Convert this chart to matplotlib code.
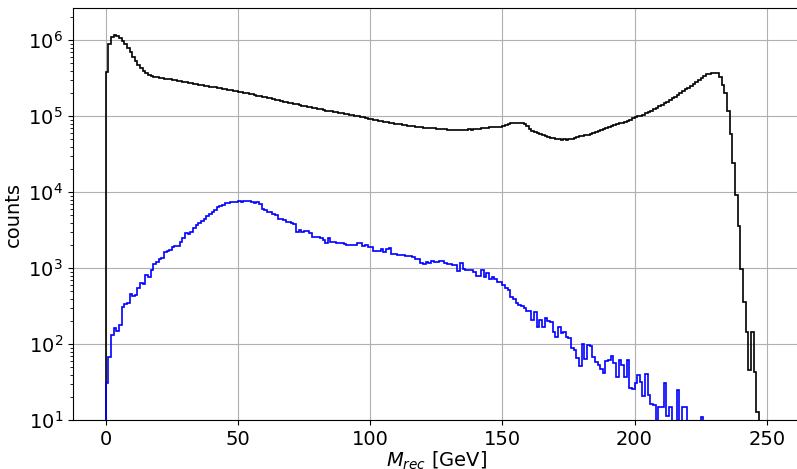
import numpy as np
import matplotlib
matplotlib.use("Agg")
import matplotlib.pyplot as plt

# Reconstructed-mass histograms, 1 GeV bins from 0 to 250 GeV
bin_edges = np.arange(0, 251, 1.0)

all_counts = [
    385000, 890000, 1110000, 1170000, 1140000, 1080000, 990000, 890000, 785000, 695000,
    608000, 534000, 473000, 428000, 395000, 368000, 349000, 339000, 332000, 326000,
    322000, 318000, 313000, 309000, 305000, 300000, 298000, 291000, 288000, 284000,
    280000, 276000, 272500, 268000, 265000, 261000, 257000, 254000, 250000, 246500,
    243000, 239500, 236500, 233000, 229500, 226500, 223000, 220000, 217000, 214000,
    211000, 207500, 204000, 200500, 197500, 194000, 191000, 187500, 184500, 181000,
    178000, 174500, 171500, 168000, 165000, 162000, 159000, 156000, 153500, 150500,
    148000, 145500, 143000, 140500, 138500, 136000, 134000, 131500, 129500, 127000,
    125000, 123000, 121000, 119000, 117500, 116000, 114000, 112500, 111000, 109500,
    108000, 106500, 104500, 103000, 101500, 100000, 98000, 96500, 94500, 92500,
    91000, 89500, 88500, 87000, 86000, 84500, 83500, 82000, 81000, 80000,
    79500, 78500, 77500, 76500, 75500, 74500, 74000, 73000, 72500, 71500,
    70800, 70500, 70000, 69500, 69500, 68500, 68500, 67500, 68000, 67000,
    66500, 67000, 66000, 66000, 65500, 67000, 66500, 67500, 67000, 68500,
    68000, 69000, 69500, 70000, 70500, 71500, 72000, 72500, 73000, 72500,
    74000, 76500, 79000, 81000, 82000, 82500, 82000, 80500, 78000, 73500,
    68000, 65000, 62500, 60000, 58000, 56500, 55000, 53500, 52500, 51500,
    50000, 51000, 49500, 50500, 49500, 50500, 51000, 52000, 53000, 54500,
    55000, 56500, 57500, 59000, 61000, 63000, 64500, 66500, 68000, 70000,
    72000, 74500, 76500, 78500, 80500, 82500, 85000, 87000, 90000, 95000,
    99000, 100500, 102000, 105500, 109000, 113500, 118500, 123500, 129500, 135000,
    141000, 148500, 156500, 164500, 173000, 182000, 191000, 202000, 214000, 226500,
    239000, 252000, 266000, 282000, 300000, 320000, 342000, 355000, 364000, 368000,
    369000, 366000, 332000, 258000, 201000, 117000, 58500, 24500, 9200, 3600,
    990, 360, 147, 46, 147, 43, 13, 0, 0, 0,
]

selected_counts = [
    31, 69, 132, 162, 150, 179, 312, 339, 346, 459,
    432, 441, 546, 646, 616, 816, 761, 950, 1139, 1221,
    1314, 1354, 1624, 1689, 1741, 1924, 1965, 1990, 2239, 2482,
    2887, 2850, 3004, 3360, 3680, 3910, 4230, 4495, 4832, 5182,
    5506, 5848, 6347, 6664, 6868, 7160, 7298, 7387, 7450, 7520,
    7752, 7450, 7690, 7600, 7690, 7390, 7300, 7350, 7018, 5970,
    5900, 5555, 5500, 5135, 5050, 4454, 4400, 4350, 4104, 4050,
    3910, 3880, 3030, 3191, 3030, 3096, 3100, 2887, 2605, 2580,
    2558, 2540, 2357, 2133, 2482, 2239, 2220, 2172, 2150, 2160,
    2088, 2025, 2010, 2000, 2025, 2133, 2120, 1983, 2025, 1924,
    1900, 1704, 1690, 1700, 1778, 1654, 1778, 1833, 1543, 1530,
    1496, 1490, 1480, 1451, 1440, 1430, 1396, 1326, 1310, 1185,
    1139, 1221, 1164, 1259, 1221, 1210, 1259, 1250, 1164, 1150,
    1150, 1105, 1100, 930, 1164, 970, 960, 950, 945, 902,
    799, 795, 950, 775, 859, 717, 775, 717, 666, 654,
    603, 546, 518, 423, 391, 353, 329, 319, 298, 277,
    275, 209, 264, 170, 209, 170, 220, 204, 198, 146,
    126, 167, 142, 146, 124, 122, 88.6, 84, 65.4, 51.8,
    101, 63.5, 97.9, 95, 67.4, 59, 53.4, 46.9, 41.5, 60.8,
    62.1, 70.2, 56.2, 36.8, 62.1, 53.4, 37.5, 62.1, 26.4, 25.6,
    30.7, 39.4, 32.2, 20.9, 40.6, 21.5, 16.4, 15.9, 0, 15.1,
    15.1, 30.7, 11.4, 15.1, 0, 0, 25, 0, 15.1, 15.1,
    0, 0, 0, 0, 0, 11, 0, 0, 0, 0,
    0, 0, 0, 0, 0, 0, 0, 0, 0, 0,
    0, 0, 0, 0, 0, 0, 0, 0, 0, 0,
]

bin_centers = 0.5 * (bin_edges[:-1] + bin_edges[1:])

fig = plt.figure(figsize=(7.97, 4.69), dpi=100)
ax = fig.add_axes([72.7 / 797, 1 - 420.3 / 469, 727.1 / 797, 412.3 / 469])

ax.hist(bin_centers, bins=bin_edges, weights=all_counts, histtype="step",
        color="black", linewidth=1.2, log=True)
ax.hist(bin_centers, bins=bin_edges, weights=selected_counts, histtype="step",
        color="blue", linewidth=1.2, log=True)

ax.set_xlim(-12.5, 262.5)
ax.set_ylim(10, 2.66e6)
ax.grid(True)
ax.set_axisbelow(True)
ax.tick_params(labelsize=14)
ax.set_xlabel(r"$M_{rec}$ [GeV]", fontsize=14, labelpad=0.5)
ax.set_ylabel("counts", fontsize=14)

fig.savefig("out.png", dpi=100)
